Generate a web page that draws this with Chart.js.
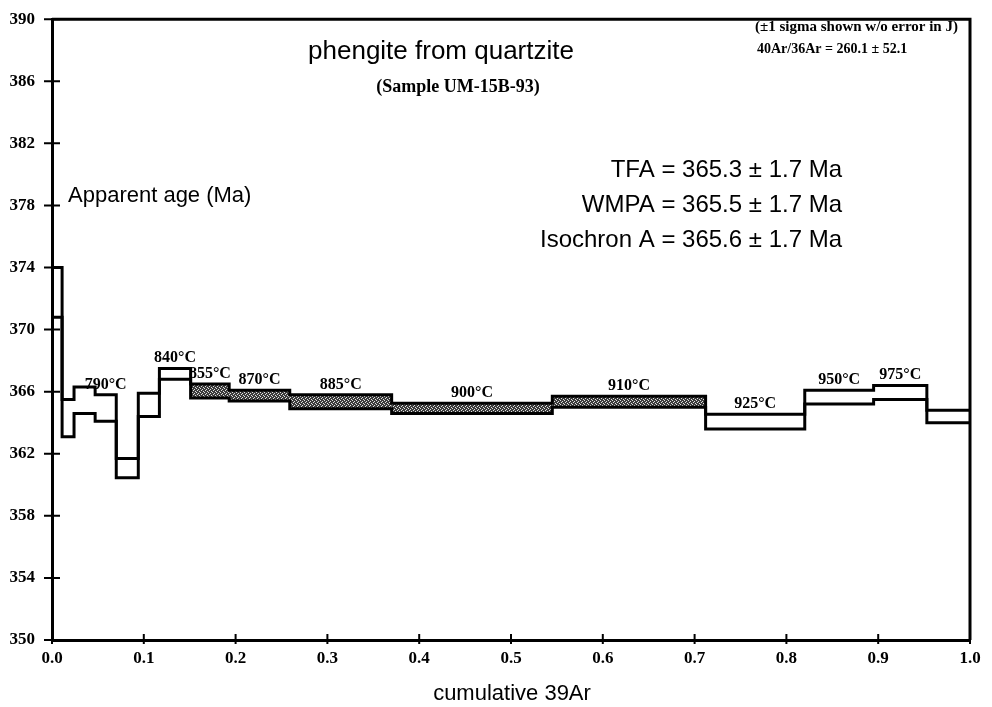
<!DOCTYPE html>
<html>
<head>
<meta charset="utf-8">
<script src="https://cdn.jsdelivr.net/npm/chart.js@4.4.1/dist/chart.umd.min.js"></script>
<style>
    html, body { margin: 0; padding: 0; background: #fff; }
    canvas { display: block; }
</style>
</head>
<body>
<canvas id="spectrumChart" width="992" height="707"></canvas>
<script>
// cumulative 39Ar fraction at the edges of each heating step
const stepEdges = [0, 0.011, 0.024, 0.047, 0.070, 0.094, 0.117, 0.151, 0.193, 0.259, 0.370, 0.545, 0.712, 0.820, 0.895, 0.953, 1.0];
// apparent age (Ma), top and bottom of each step box (±1 sigma)
const ageHigh = [374.0, 365.5, 366.3, 365.8, 361.7, 365.9, 367.5, 366.5, 366.1, 365.8, 365.25, 365.7, 364.55, 366.1, 366.4, 364.8];
const ageLow  = [370.8, 363.1, 364.6, 364.1, 360.45, 364.4, 366.8, 365.6, 365.4, 364.9, 364.6, 365.0, 363.6, 365.2, 365.5, 364.0];
const stepTemps = ['', '', '', '790°C', '', '', '840°C', '855°C', '870°C', '885°C', '900°C', '910°C', '925°C', '950°C', '975°C', ''];
// steps shaded as plateau
const plateauSteps = [7, 8, 9, 10, 11];
const xTicks = [0, 0.1, 0.2, 0.3, 0.4, 0.5, 0.6, 0.7, 0.8, 0.9, 1.0];
const yTicks = [350, 354, 358, 362, 366, 370, 374, 378, 382, 386, 390];

const serif = "'Liberation Serif', 'Times New Roman', serif";
const sans = "'Liberation Sans', Arial, sans-serif";

function makeStipple() {
    const c = document.createElement('canvas');
    c.width = 4;
    c.height = 4;
    const g = c.getContext('2d');
    g.fillStyle = '#3c3c3c';
    g.fillRect(0, 0, 4, 4);
    g.fillStyle = '#e0e0e0';
    g.fillRect(0, 0, 1, 1);
    g.fillRect(2, 1, 1, 1);
    g.fillRect(1, 2, 1, 1);
    g.fillRect(3, 3, 1, 1);
    return g.createPattern(c, 'repeat');
}

function stepLine(values) {
    // one point per edge, last value repeated to close the final step
    return stepEdges.map((x, i) => ({ x: x, y: values[Math.min(i, values.length - 1)] }));
}

function stepBox(i) {
    const x0 = stepEdges[i], x1 = stepEdges[i + 1];
    return [
        { x: x0, y: ageLow[i] }, { x: x0, y: ageHigh[i] },
        { x: x1, y: ageHigh[i] }, { x: x1, y: ageLow[i] }, { x: x0, y: ageLow[i] }
    ];
}

const stipple = makeStipple();

const datasets = [
    {
        label: 'upper',
        data: stepLine(ageHigh),
        showLine: true, stepped: true,
        borderColor: '#000', borderWidth: 3,
        pointRadius: 0, fill: false, order: 0
    },
    {
        label: 'lower',
        data: stepLine(ageLow),
        showLine: true, stepped: true,
        borderColor: '#000', borderWidth: 3,
        pointRadius: 0, fill: false, order: 0
    }
];
plateauSteps.forEach(i => {
    datasets.push({
        label: 'plateau ' + i,
        data: stepBox(i),
        showLine: true,
        borderWidth: 0, borderColor: 'rgba(0,0,0,0)',
        backgroundColor: stipple,
        pointRadius: 0, fill: 'shape', order: 2
    });
});

const decorPlugin = {
    id: 'decor',
    afterDatasetsDraw(chart) {
        const ctx = chart.ctx;
        const a = chart.chartArea;
        const xs = chart.scales.x, ys = chart.scales.y;
        ctx.save();

        // frame on top and right
        ctx.strokeStyle = '#000';
        ctx.lineWidth = 3;
        ctx.beginPath();
        ctx.moveTo(a.left, a.top);
        ctx.lineTo(a.right, a.top);
        ctx.lineTo(a.right, a.bottom);
        ctx.stroke();

        // ticks crossing the axes
        ctx.lineWidth = 2;
        ctx.beginPath();
        yTicks.forEach(v => {
            const y = ys.getPixelForValue(v);
            ctx.moveTo(a.left - 8, y);
            ctx.lineTo(a.left + 8, y);
        });
        xTicks.forEach(v => {
            const x = xs.getPixelForValue(v);
            ctx.moveTo(x, a.bottom - 6);
            ctx.lineTo(x, a.bottom + 4);
        });
        ctx.stroke();

        // temperature labels above each step
        ctx.fillStyle = '#000';
        ctx.font = 'bold 16px ' + serif;
        ctx.textAlign = 'center';
        ctx.textBaseline = 'alphabetic';
        stepTemps.forEach((t, i) => {
            if (!t) return;
            const x = xs.getPixelForValue((stepEdges[i] + stepEdges[i + 1]) / 2);
            const y = ys.getPixelForValue(ageHigh[i]) - 6;
            ctx.fillText(t, x, y);
        });

        // titles and notes
        ctx.textBaseline = 'middle';
        ctx.font = '26px ' + sans;
        ctx.fillText('phengite from quartzite', 441, 52);
        ctx.font = 'bold 18px ' + serif;
        ctx.fillText('(Sample UM-15B-93)', 458, 87);

        ctx.textAlign = 'left';
        ctx.font = 'bold 15px ' + serif;
        ctx.fillText('(±1 sigma shown w/o error in J)', 755, 27);
        ctx.font = 'bold 14px ' + serif;
        ctx.fillText('40Ar/36Ar = 260.1 ± 52.1', 757, 49);

        ctx.font = '22px ' + sans;
        ctx.fillText('Apparent age (Ma)', 68, 196);

        ctx.textAlign = 'right';
        ctx.font = '24px ' + sans;
        ctx.fillText('TFA = 365.3 ± 1.7 Ma', 842, 170);
        ctx.fillText('WMPA = 365.5 ± 1.7 Ma', 842, 205);
        ctx.fillText('Isochron A = 365.6 ± 1.7 Ma', 842, 240);

        ctx.textAlign = 'center';
        ctx.font = '22px ' + sans;
        ctx.fillText('cumulative 39Ar', 512, 694);
        ctx.restore();
    }
};

const chart = new Chart(document.getElementById('spectrumChart').getContext('2d'), {
    type: 'scatter',
    data: { datasets: datasets },
    options: {
        responsive: false,
        animation: false,
        layout: { padding: { top: 2, right: 22, left: 0, bottom: 0 } },
        plugins: {
            legend: { display: false },
            tooltip: { enabled: false }
        },
        scales: {
            x: {
                type: 'linear',
                min: 0, max: 1,
                afterFit: scale => { scale.height = 67; },
                afterBuildTicks: scale => { scale.ticks = xTicks.map(v => ({ value: v })); },
                grid: { display: false },
                border: { display: true, color: '#000', width: 3 },
                ticks: {
                    color: '#000',
                    padding: 0,
                    maxRotation: 0,
                    font: { family: serif, size: 17, weight: 'bold' },
                    callback: v => v.toFixed(1)
                }
            },
            y: {
                type: 'linear',
                min: 350, max: 390,
                afterFit: scale => { scale.width = 52; },
                afterBuildTicks: scale => { scale.ticks = yTicks.map(v => ({ value: v })); },
                grid: { display: false },
                border: { display: true, color: '#000', width: 3 },
                ticks: {
                    color: '#000',
                    padding: 9,
                    font: { family: serif, size: 17, weight: 'bold' }
                }
            }
        }
    },
    plugins: [decorPlugin]
});
</script>
</body>
</html>
